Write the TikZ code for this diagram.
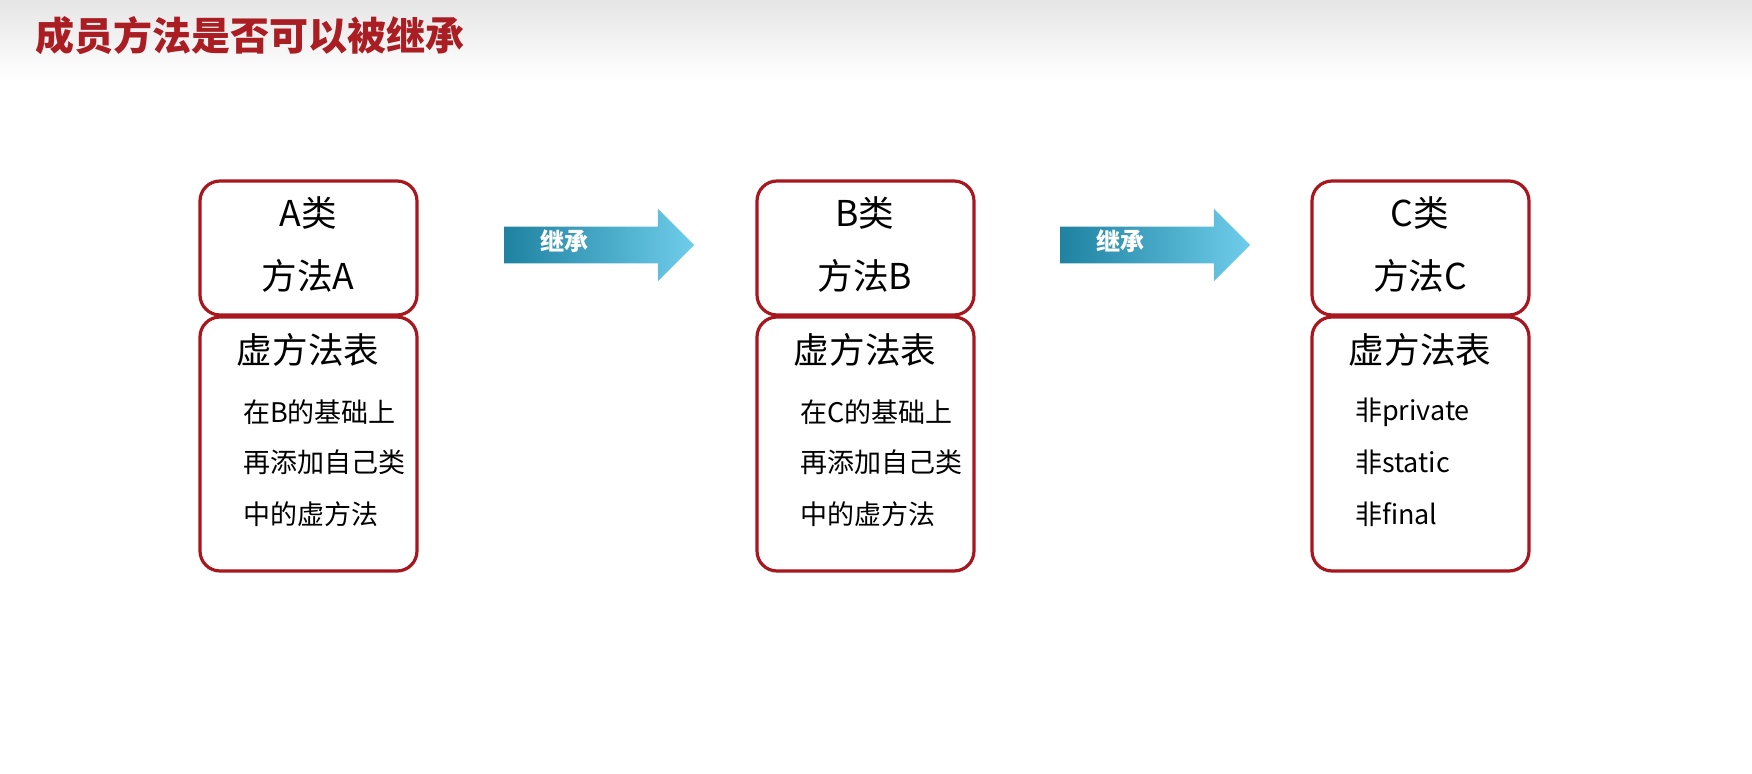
\documentclass[tikz,border=0pt]{standalone}
\usepackage{fontspec}
\setmainfont{Noto Sans CJK SC}
\usetikzlibrary{shapes.arrows}
\definecolor{dred}{RGB}{168,22,30}
\definecolor{tred}{RGB}{170,30,35}
\definecolor{ateal}{RGB}{30,130,160}
\definecolor{acyan}{RGB}{110,205,235}
\tikzset{
 cls/.style={draw=dred,line width=1.6pt,rounded corners=10pt},
 big/.style={font=\fontsize{17.8}{20}\selectfont},
 small/.style={font=\fontsize{13.5}{16}\selectfont,anchor=west},
 arr/.style={single arrow,minimum height=95pt,text height=8pt,text depth=2pt,inner ysep=4pt,inner xsep=0pt,single arrow head extend=9pt,left color=ateal,right color=acyan,draw=none,font=\bfseries\fontsize{12}{14}\selectfont,text=white}
}
\begin{document}
\begin{tikzpicture}[x=0.5pt,y=-0.5pt]
\useasboundingbox (0,0) rectangle (1752,774);
\shade[top color=gray!20,bottom color=white] (0,0) rectangle (1752,80);
\node[anchor=west,text=tred,font=\bfseries\fontsize{19.5}{22}\selectfont] (title) at (28,36) {成员方法是否可以被继承};
\foreach \n/\x/\L/\a/\b/\c in {A/200/A/在B的基础上/再添加自己类/中的虚方法,B/757/B/在C的基础上/再添加自己类/中的虚方法,C/1312/C/非private/非static/非final}{
 \draw[cls] (\x,181) rectangle (\x+217,315);
 \draw[cls] (\x,317) rectangle (\x+217,571);
 \node[big] (t\n) at (\x+108,213) {\L 类};
 \node[big] (m\n) at (\x+108,276) {方法\L};
 \node[big] (v\n) at (\x+108,350) {虚方法表};
 \node[small] (a\n) at (\x+36,412) {\a};
 \node[small] (b\n) at (\x+36,462) {\b};
 \node[small] (c\n) at (\x+36,514) {\c};
}
\node[arr] (arr1) at (590,245) {\hspace*{-26pt}继承};
\node[arr] (arr2) at (1146,245) {\hspace*{-26pt}继承};
\end{tikzpicture}
\end{document}
